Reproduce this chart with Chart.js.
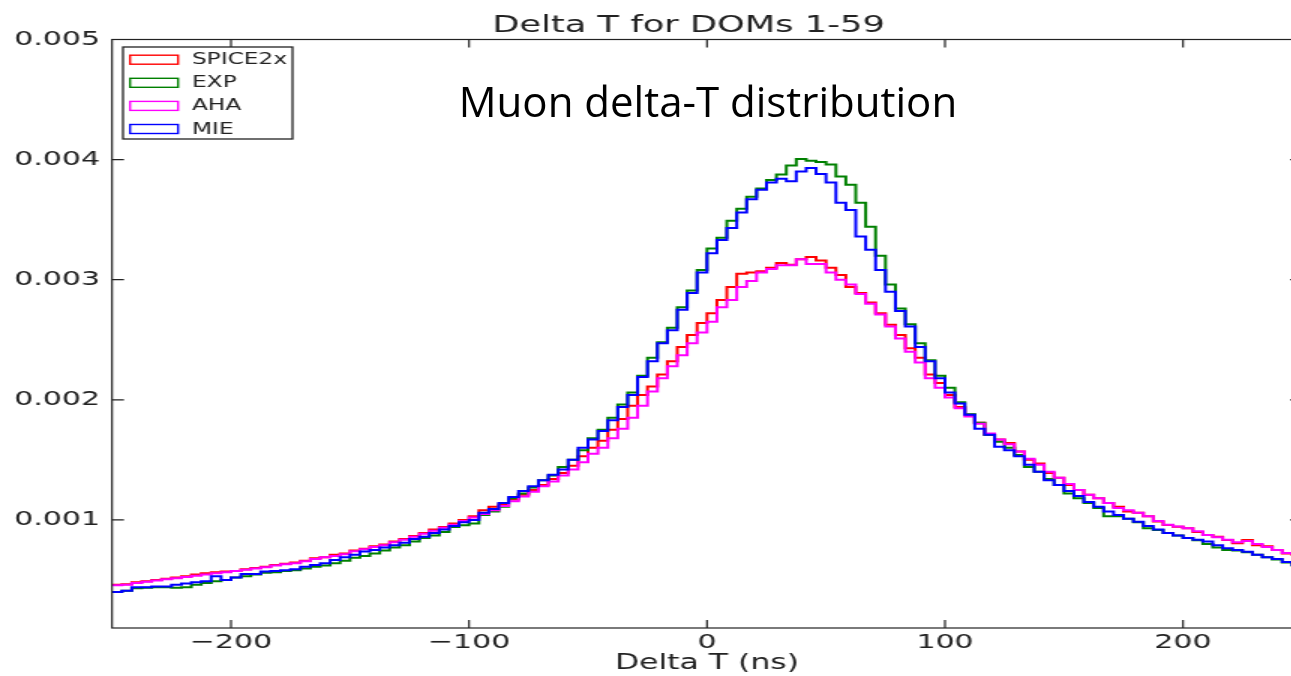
<!DOCTYPE html>
<html>
<head>
<meta charset="utf-8">
<title>Delta T for DOMs 1-59</title>
<script src="https://cdn.jsdelivr.net/npm/chart.js@4.4.1/dist/chart.umd.min.js"></script>
<style>
    html, body {
        margin: 0;
        padding: 0;
        background: #ffffff;
        width: 1291px;
        height: 676px;
        overflow: hidden;
    }
    /* the source plot is a matplotlib figure stretched sideways, so the canvas is too */
    #stretch {
        position: absolute;
        left: 0;
        top: 0;
        width: 868px;
        height: 676px;
        transform: scaleX(1.5);
        transform-origin: 0 0;
    }
    #note {
        position: absolute;
        left: 358px;
        top: 80px;
        width: 700px;
        text-align: center;
        font-family: "Open Sans", sans-serif;
        font-size: 42px;
        line-height: 42px;
        color: #000000;
        white-space: nowrap;
    }
</style>
</head>
<body>
<div id="stretch"><canvas id="deltaChart" width="868" height="676"></canvas></div>
<div id="note">Muon delta-T distribution</div>

<script>
// Histogram range (ns) - values below are per bin, left to right
const HIST_MIN = -250;
const HIST_MAX = 250;

const X_TICKS = [-200, -100, 0, 100, 200];
const Y_TICKS = [1, 2, 3, 4, 5];   // units of 1e-3

const SERIES_NAMES = ['SPICE2x', 'EXP', 'AHA', 'MIE'];
const SERIES_COLORS = ['#ff0000', '#008000', '#ff00ff', '#0000ff'];

// bin contents, in units of 1e-3
const spice2x = [
    0.46, 0.465, 0.48, 0.49, 0.50, 0.51, 0.52, 0.53, 0.545, 0.555, 0.565, 0.57,
    0.575, 0.59, 0.60, 0.61, 0.625, 0.635, 0.645, 0.66, 0.68, 0.69, 0.71, 0.72,
    0.745, 0.76, 0.78, 0.795, 0.82, 0.84, 0.865, 0.89, 0.92, 0.94, 0.97, 1.00,
    1.03, 1.08, 1.11, 1.13, 1.17, 1.21, 1.25, 1.29, 1.34, 1.39, 1.45, 1.53,
    1.60, 1.66, 1.75, 1.84, 1.95, 2.04, 2.11, 2.21, 2.32, 2.44, 2.54, 2.64,
    2.72, 2.83, 2.94, 3.05, 3.06, 3.07, 3.10, 3.14, 3.125, 3.17, 3.19, 3.16,
    3.10, 3.04, 2.94, 2.89, 2.81, 2.72, 2.625, 2.54, 2.43, 2.35, 2.21, 2.14,
    2.04, 1.94, 1.875, 1.81, 1.71, 1.67, 1.64, 1.57, 1.50, 1.47, 1.39, 1.35,
    1.29, 1.25, 1.21, 1.18, 1.14, 1.11, 1.07, 1.06, 1.03, 0.986, 0.958, 0.944,
    0.93, 0.90, 0.875, 0.86, 0.833, 0.806, 0.833, 0.79, 0.78, 0.75, 0.72, 0.71
];

const exp = [
    0.40, 0.41, 0.43, 0.435, 0.44, 0.44, 0.435, 0.44, 0.46, 0.475, 0.49, 0.50,
    0.52, 0.53, 0.545, 0.56, 0.565, 0.575, 0.58, 0.595, 0.61, 0.62, 0.64, 0.66,
    0.685, 0.70, 0.72, 0.745, 0.77, 0.79, 0.82, 0.85, 0.87, 0.90, 0.94, 0.955,
    0.97, 1.04, 1.07, 1.11, 1.18, 1.22, 1.27, 1.33, 1.37, 1.44, 1.50, 1.58,
    1.68, 1.75, 1.85, 1.96, 2.06, 2.20, 2.35, 2.48, 2.60, 2.77, 2.91, 3.08,
    3.26, 3.35, 3.49, 3.59, 3.69, 3.76, 3.83, 3.875, 3.95, 4.006, 3.99, 3.98,
    3.96, 3.86, 3.79, 3.64, 3.44, 3.20, 2.96, 2.76, 2.63, 2.47, 2.33, 2.20,
    2.10, 1.98, 1.88, 1.81, 1.71, 1.65, 1.60, 1.54, 1.44, 1.40, 1.34, 1.29,
    1.22, 1.18, 1.14, 1.10, 1.03, 1.03, 1.01, 0.98, 0.93, 0.915, 0.89, 0.87,
    0.85, 0.83, 0.80, 0.77, 0.75, 0.745, 0.73, 0.71, 0.69, 0.67, 0.645, 0.62
];

const aha = [
    0.455, 0.46, 0.475, 0.485, 0.495, 0.505, 0.515, 0.525, 0.535, 0.545, 0.555, 0.565,
    0.575, 0.585, 0.595, 0.605, 0.62, 0.63, 0.64, 0.655, 0.675, 0.69, 0.70, 0.715,
    0.74, 0.755, 0.775, 0.79, 0.815, 0.835, 0.86, 0.885, 0.91, 0.935, 0.96, 0.99,
    1.02, 1.05, 1.08, 1.115, 1.155, 1.195, 1.235, 1.28, 1.32, 1.37, 1.42, 1.48,
    1.55, 1.60, 1.68, 1.76, 1.85, 1.95, 2.07, 2.18, 2.28, 2.37, 2.47, 2.56,
    2.65, 2.77, 2.83, 2.94, 2.99, 3.06, 3.09, 3.12, 3.12, 3.17, 3.13, 3.13,
    3.06, 3.00, 2.96, 2.88, 2.80, 2.71, 2.61, 2.51, 2.40, 2.31, 2.18, 2.10,
    2.02, 1.93, 1.86, 1.80, 1.72, 1.67, 1.63, 1.57, 1.51, 1.46, 1.40, 1.35,
    1.30, 1.25, 1.21, 1.18, 1.14, 1.10, 1.08, 1.06, 1.03, 0.99, 0.96, 0.945,
    0.93, 0.905, 0.875, 0.855, 0.835, 0.815, 0.825, 0.80, 0.775, 0.75, 0.725, 0.715
];

const mie = [
    0.40, 0.41, 0.44, 0.44, 0.445, 0.445, 0.46, 0.47, 0.48, 0.49, 0.53, 0.50,
    0.52, 0.55, 0.55, 0.57, 0.575, 0.58, 0.59, 0.61, 0.625, 0.64, 0.667, 0.69,
    0.71, 0.736, 0.75, 0.77, 0.79, 0.81, 0.84, 0.86, 0.89, 0.92, 0.95, 0.98,
    1.00, 1.06, 1.09, 1.14, 1.19, 1.24, 1.28, 1.33, 1.375, 1.42, 1.50, 1.60,
    1.67, 1.74, 1.83, 1.94, 2.04, 2.19, 2.32, 2.47, 2.58, 2.75, 2.89, 3.06,
    3.22, 3.33, 3.43, 3.56, 3.67, 3.75, 3.81, 3.84, 3.82, 3.90, 3.93, 3.88,
    3.81, 3.64, 3.58, 3.36, 3.25, 3.08, 2.90, 2.74, 2.61, 2.44, 2.32, 2.18,
    2.06, 1.97, 1.875, 1.76, 1.71, 1.61, 1.58, 1.53, 1.46, 1.40, 1.33, 1.29,
    1.24, 1.20, 1.15, 1.11, 1.07, 1.04, 1.01, 0.985, 0.95, 0.92, 0.89, 0.87,
    0.85, 0.835, 0.82, 0.79, 0.765, 0.75, 0.735, 0.71, 0.69, 0.675, 0.65, 0.625
];

const SERIES_VALUES = [spice2x, exp, aha, mie];

const TEXT_COLOR = '#222222';
const FONT = '"DejaVu Sans", sans-serif';

/**
 * Turn bin contents into points at bin centres (drawn as steps)
 */
function toStepPoints(values) {
    const binWidth = (HIST_MAX - HIST_MIN) / values.length;
    const points = [{ x: HIST_MIN, y: values[0] }];
    values.forEach((v, i) => {
        points.push({ x: HIST_MIN + (i + 0.5) * binWidth, y: v });
    });
    points.push({ x: HIST_MAX, y: values[values.length - 1] });
    return points;
}

function tickLabel(v) {
    return v < 0 ? '\u2212' + Math.abs(v) : String(v);
}

// Frame with inward ticks, legend box and title (matplotlib look)
const mplDecor = {
    id: 'mplDecor',
    afterDatasetsDraw(chart) {
        const { ctx, chartArea: a, scales } = chart;
        const len = 8;
        ctx.save();
        ctx.strokeStyle = TEXT_COLOR;
        ctx.lineWidth = 1.2;
        ctx.strokeRect(a.left, a.top, a.right - a.left, a.bottom - a.top);

        ctx.beginPath();
        X_TICKS.forEach(v => {
            const px = scales.x.getPixelForValue(v);
            ctx.moveTo(px, a.bottom);
            ctx.lineTo(px, a.bottom - len);
            ctx.moveTo(px, a.top);
            ctx.lineTo(px, a.top + len);
        });
        Y_TICKS.forEach(v => {
            const py = scales.y.getPixelForValue(v);
            ctx.moveTo(a.left, py);
            ctx.lineTo(a.left + len, py);
            ctx.moveTo(a.right, py);
            ctx.lineTo(a.right - len, py);
        });
        ctx.stroke();
        ctx.restore();
    },
    afterDraw(chart) {
        const { ctx } = chart;
        ctx.save();

        // title
        ctx.fillStyle = TEXT_COLOR;
        ctx.font = '23.5px ' + FONT;
        ctx.textAlign = 'center';
        ctx.textBaseline = 'alphabetic';
        ctx.fillText('Delta T for DOMs 1-59', 459, 32);

        // legend
        const box = { x: 82, y: 47, w: 113, h: 92 };
        ctx.fillStyle = '#ffffff';
        ctx.fillRect(box.x, box.y, box.w, box.h);
        ctx.strokeStyle = TEXT_COLOR;
        ctx.lineWidth = 1.3;
        ctx.strokeRect(box.x, box.y, box.w, box.h);

        ctx.font = '15.5px ' + FONT;
        ctx.textAlign = 'left';
        ctx.textBaseline = 'middle';
        chart.data.datasets.forEach((ds, i) => {
            const rowY = 59.7 + i * 23.1;
            ctx.strokeStyle = ds.borderColor;
            ctx.lineWidth = 1.4;
            ctx.strokeRect(86.7, rowY - 4.5, 32, 9);
            ctx.fillStyle = TEXT_COLOR;
            ctx.fillText(ds.label, 128, rowY + 0.5);
        });
        ctx.restore();
    }
};

const datasets = SERIES_NAMES.map((name, i) => ({
    label: name,
    data: toStepPoints(SERIES_VALUES[i]),
    borderColor: SERIES_COLORS[i],
    backgroundColor: 'rgba(0,0,0,0)',
    borderWidth: 2,
    stepped: 'middle',
    pointRadius: 0,
    fill: false,
    // later series are drawn on top, as in the source plot
    order: SERIES_NAMES.length - i
}));

new Chart(document.getElementById('deltaChart'), {
    type: 'line',
    data: { datasets },
    options: {
        responsive: false,
        animation: false,
        devicePixelRatio: 1,
        layout: {
            padding: { top: 39.5, left: 0, right: 0, bottom: 0 }
        },
        plugins: {
            legend: { display: false },
            tooltip: { enabled: false },
            title: { display: false }
        },
        scales: {
            x: {
                type: 'linear',
                min: HIST_MIN,
                max: HIST_MAX,
                afterBuildTicks: scale => {
                    scale.ticks = X_TICKS.map(v => ({ value: v }));
                },
                afterFit: scale => {
                    scale.height = 48;
                },
                grid: { display: false, drawTicks: false },
                border: { display: false },
                ticks: {
                    color: TEXT_COLOR,
                    font: { family: FONT, size: 20 },
                    padding: 3,
                    maxRotation: 0,
                    callback: v => tickLabel(v)
                },
                title: {
                    display: true,
                    text: 'Delta T (ns)',
                    color: TEXT_COLOR,
                    font: { family: FONT, size: 21 },
                    padding: { top: 0, bottom: 0 }
                }
            },
            y: {
                type: 'linear',
                min: 0.1,
                max: 5,
                afterBuildTicks: scale => {
                    scale.ticks = Y_TICKS.map(v => ({ value: v }));
                },
                afterFit: scale => {
                    scale.width = 74.67;
                },
                grid: { display: false, drawTicks: false },
                border: { display: false },
                ticks: {
                    color: TEXT_COLOR,
                    font: { family: FONT, size: 20 },
                    padding: 8,
                    callback: v => (v / 1000).toFixed(3)
                }
            }
        }
    },
    plugins: [mplDecor]
});
</script>
</body>
</html>
